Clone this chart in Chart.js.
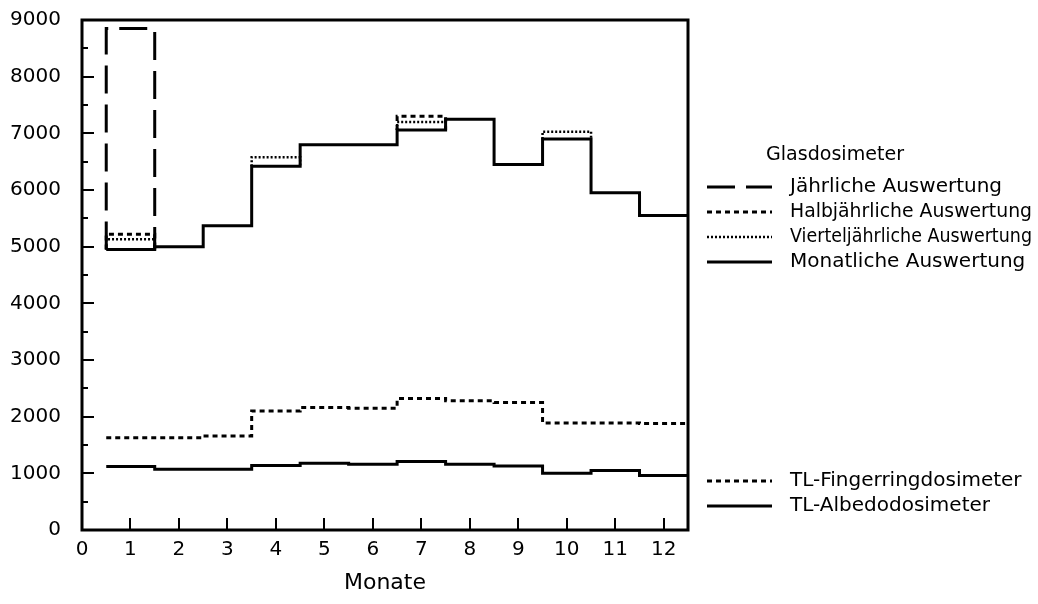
<!DOCTYPE html>
<html>
<head>
<meta charset="utf-8">
<script src="https://cdn.jsdelivr.net/npm/chart.js@4.4.1/dist/chart.umd.min.js"></script>
<style>
  html, body { margin: 0; padding: 0; background: #fff; }
  #wrap { width: 1038px; height: 604px; }
</style>
</head>
<body>
<div id="wrap"><canvas id="chart" width="1038" height="604"></canvas></div>
<script>
// Monate und Achsenteilung
const months = [1, 2, 3, 4, 5, 6, 7, 8, 9, 10, 11, 12];
const xTicks = [0, 1, 2, 3, 4, 5, 6, 7, 8, 9, 10, 11, 12];
const yTicks = [0, 1000, 2000, 3000, 4000, 5000, 6000, 7000, 8000, 9000];
const yMinorTicks = [500, 1500, 2500, 3500, 4500, 5500, 6500, 7500, 8500];

// Glasdosimeter
const glasMonatlich = [4950, 5000, 5370, 6420, 6800, 6800, 7060, 7250, 6450, 6900, 5950, 5550];
const glasViertelMonate = [1, 4, 7, 10];
const glasViertel = [5130, 6580, 7200, 7030];
const glasHalbMonate = [1, 7];
const glasHalb = [5220, 7300];
const glasJahrMonate = [1];
const glasJahr = [8850];

// TL-Dosimeter
const tlFingerring = [1630, 1630, 1660, 2100, 2160, 2150, 2320, 2280, 2250, 1890, 1890, 1880];
const tlAlbedo = [1120, 1070, 1070, 1140, 1180, 1160, 1210, 1160, 1130, 1000, 1050, 960];

// Legende
const glasTitle = 'Glasdosimeter';
const glasLabels = ['Jährliche Auswertung', 'Halbjährliche Auswertung', 'Vierteljährliche Auswertung', 'Monatliche Auswertung'];
const tlLabels = ['TL-Fingerringdosimeter', 'TL-Albedodosimeter'];

const FONT = '"DejaVu Sans", "Liberation Sans", sans-serif';

// Stufenlinie: jeder Monat von m-0.5 bis m+0.5
function stepPoints(values) {
  const pts = values.map((v, i) => ({ x: months[i] - 0.5, y: v }));
  pts.push({ x: months[months.length - 1] + 0.5, y: values[values.length - 1] });
  return pts;
}

// einzelne Abschnitte über der Monatslinie
function segmentPoints(ms, vals) {
  const pts = [];
  ms.forEach((m, i) => {
    const base = glasMonatlich[m - 1];
    pts.push({ x: m - 0.5, y: base }, { x: m - 0.5, y: vals[i] },
             { x: m + 0.5, y: vals[i] }, { x: m + 0.5, y: base },
             { x: m + 0.5, y: null });
  });
  return pts;
}

function lineSet(label, data, dash, width, stepped) {
  return {
    label: label,
    data: data,
    borderColor: '#000',
    borderWidth: width,
    borderDash: dash,
    borderCapStyle: 'butt',
    pointRadius: 0,
    fill: false,
    stepped: stepped,
    spanGaps: false,
    tension: 0
  };
}

const datasets = [
  lineSet(glasLabels[3], stepPoints(glasMonatlich), [], 3, true),
  lineSet(glasLabels[2], segmentPoints(glasViertelMonate, glasViertel), [2, 2], 2.5, false),
  lineSet(glasLabels[1], segmentPoints(glasHalbMonate, glasHalb), [5, 4], 3, false),
  lineSet(glasLabels[0], segmentPoints(glasJahrMonate, glasJahr), [28, 11], 3, false),
  lineSet(tlLabels[0], stepPoints(tlFingerring), [5, 4], 3, true),
  lineSet(tlLabels[1], stepPoints(tlAlbedo), [], 3, true)
];

// Rahmen, Striche nach innen und Legende rechts
const framePlugin = {
  id: 'frame',
  afterDatasetsDraw(chart) {
    const { ctx, chartArea: a, scales: { x, y } } = chart;
    ctx.save();
    ctx.strokeStyle = '#000';
    ctx.setLineDash([]);
    ctx.lineWidth = 3;
    ctx.strokeRect(a.left, a.top, a.right - a.left, a.bottom - a.top);

    ctx.lineWidth = 2;
    ctx.beginPath();
    yTicks.forEach(v => {
      const py = Math.round(y.getPixelForValue(v));
      ctx.moveTo(a.left, py);
      ctx.lineTo(a.left + 12, py);
    });
    yMinorTicks.forEach(v => {
      const py = Math.round(y.getPixelForValue(v));
      ctx.moveTo(a.left, py);
      ctx.lineTo(a.left + 6, py);
    });
    xTicks.filter(v => v > 0).forEach(v => {
      const px = Math.round(x.getPixelForValue(v));
      ctx.moveTo(px, a.bottom);
      ctx.lineTo(px, a.bottom - 12);
    });
    ctx.stroke();

    // Legende
    const sx0 = 707, sx1 = 772, tx = 790, maxW = 242;
    ctx.fillStyle = '#000';
    ctx.font = '20px ' + FONT;
    ctx.textBaseline = 'middle';
    ctx.textAlign = 'left';
    ctx.fillText(glasTitle, 766, 155, 138);

    const rows = [
      { ds: datasets[3], y: 187 },
      { ds: datasets[2], y: 212 },
      { ds: datasets[1], y: 237 },
      { ds: datasets[0], y: 262 },
      { ds: datasets[4], y: 481 },
      { ds: datasets[5], y: 506 }
    ];
    rows.forEach(r => {
      ctx.lineWidth = r.ds.borderWidth;
      ctx.setLineDash(r.ds.borderDash);
      ctx.beginPath();
      ctx.moveTo(sx0, r.y);
      ctx.lineTo(sx1, r.y);
      ctx.stroke();
      ctx.fillText(r.ds.label, tx, r.y, maxW);
    });
    ctx.restore();
  }
};

new Chart(document.getElementById('chart'), {
  type: 'line',
  data: { datasets: datasets },
  options: {
    responsive: false,
    animation: false,
    devicePixelRatio: 1,
    layout: { padding: { left: 0, top: 20, right: 350, bottom: 0 } },
    plugins: {
      legend: { display: false },
      tooltip: { enabled: false }
    },
    scales: {
      x: {
        type: 'linear',
        min: 0,
        max: 12.5,
        grid: { display: false, drawTicks: false },
        border: { display: false },
        afterBuildTicks: s => { s.ticks = xTicks.map(v => ({ value: v })); },
        afterFit: s => { s.height = 74; s.paddingLeft = 0; s.paddingRight = 0; },
        ticks: {
          padding: 8,
          color: '#000',
          autoSkip: false,
          maxRotation: 0,
          font: { family: FONT, size: 20 },
          callback: v => String(v)
        },
        title: {
          display: true,
          text: 'Monate',
          color: '#000',
          font: { family: FONT, size: 22 },
          padding: { top: 0, bottom: 8 }
        }
      },
      y: {
        type: 'linear',
        min: 0,
        max: 9000,
        grid: { display: false, drawTicks: false },
        border: { display: false },
        afterBuildTicks: s => { s.ticks = yTicks.map(v => ({ value: v })); },
        afterFit: s => { s.width = 82; s.paddingTop = 0; s.paddingBottom = 0; },
        ticks: {
          padding: 21,
          color: '#000',
          font: { family: FONT, size: 20 },
          callback: v => String(v)
        }
      }
    }
  },
  plugins: [framePlugin]
});
</script>
</body>
</html>
